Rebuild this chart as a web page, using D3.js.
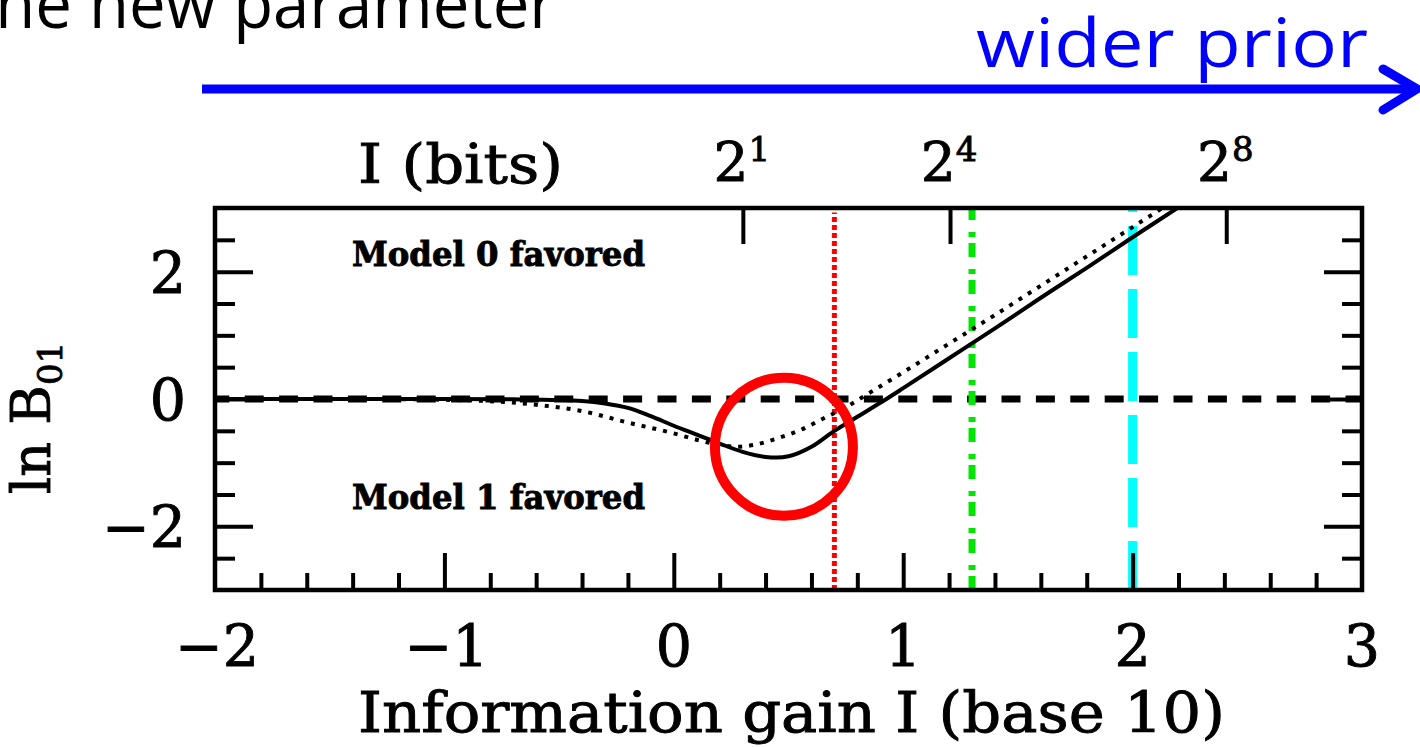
<!DOCTYPE html>
<html>
<head>
<meta charset="utf-8">
<script src="https://cdn.jsdelivr.net/npm/d3@7"></script>
<style>
  html, body { margin: 0; padding: 0; background: #fff; }
  svg { display: block; }
  .plotText { fill: #000; stroke: #000; stroke-width: 0.9px; }
</style>
</head>
<body>
<svg id="chart" width="1420" height="747"></svg>
<script>
// ln B01 against information gain (log10), for two prior shapes
const solidX = [-2.0, -1.5, -1.0, -0.7, -0.5, -0.4, -0.3, -0.2, -0.1, 0.0, 0.1, 0.2, 0.3, 0.4, 0.45, 0.5, 0.6, 0.7, 0.8, 0.9, 1.0, 1.2, 1.4, 1.6, 1.8, 2.0, 2.2, 2.3];
const solidY = [0, 0, 0, -0.005, -0.015, -0.03, -0.07, -0.14, -0.27, -0.42, -0.56, -0.70, -0.83, -0.91, -0.92, -0.90, -0.75, -0.50, -0.28, -0.06, 0.17, 0.64, 1.11, 1.59, 2.06, 2.54, 3.01, 3.25];

const dottedX = [-2.0, -1.4, -1.2, -1.0, -0.8, -0.6, -0.4, -0.2, 0.0, 0.1, 0.2, 0.27, 0.35, 0.45, 0.55, 0.65, 0.75, 0.85, 1.0, 1.2, 1.4, 1.6, 1.8, 2.0, 2.2];
const dottedY = [0, 0, -0.003, -0.012, -0.035, -0.09, -0.19, -0.37, -0.54, -0.64, -0.72, -0.75, -0.72, -0.62, -0.49, -0.31, -0.13, 0.09, 0.42, 0.87, 1.32, 1.78, 2.24, 2.70, 3.16];

// reference widths marked by vertical lines
const markerX = [0.7, 1.3, 2.0];
const markerColor = ["#ff0000", "#00e600", "#00ffff"];

// tick values
const xMajorTicks = [-2, -1, 0, 1, 2, 3];
const xMinorTicks = d3.range(-20, 31, 2).map(d => d / 10).filter(d => !Number.isInteger(d));
const yMajorTicks = [-2, 0, 2];
const yMinorTicks = [-2.5, -1.5, -1, -0.5, 0.5, 1, 1.5, 2.5];
const bitPowers = [1, 4, 8];

const svg = d3.select("#chart");
svg.append("rect").attr("width", 1420).attr("height", 747).attr("fill", "#fff");

const pLeft = 215, pRight = 1362, pTop = 208, pBottom = 590;
const x = d3.scaleLinear().domain([-2, 3]).range([pLeft, pRight]);
const y = d3.scaleLinear().domain([-3, 3]).range([pBottom, pTop]);

const serif = "'DejaVu Serif', serif";

// ---- slide header: partial caption and "wider prior" arrow ----
svg.append("text")
  .attr("x", 556).attr("y", 28)
  .attr("text-anchor", "end")
  .attr("font-family", "'Open Sans', sans-serif")
  .attr("font-size", 68)
  .attr("fill", "#000")
  .attr("textLength", 600).attr("lengthAdjust", "spacingAndGlyphs")
  .text("one new parameter");

svg.append("text")
  .attr("x", 976).attr("y", 67)
  .attr("font-family", "'Open Sans', sans-serif")
  .attr("font-size", 68)
  .attr("fill", "#0000ff")
  .attr("textLength", 392)
  .attr("lengthAdjust", "spacingAndGlyphs")
  .text("wider prior");

svg.append("line")
  .attr("x1", 202).attr("x2", 1414).attr("y1", 89).attr("y2", 89)
  .attr("stroke", "#0000ff").attr("stroke-width", 9);
svg.append("polyline")
  .attr("points", "1383,69 1417,89 1383,110")
  .attr("fill", "none").attr("stroke", "#0000ff").attr("stroke-width", 9)
  .attr("stroke-linecap", "round").attr("stroke-linejoin", "round");

// ---- plot contents ----
svg.append("clipPath").attr("id", "plotClip")
  .append("rect").attr("x", pLeft).attr("y", pTop).attr("width", pRight - pLeft).attr("height", pBottom - pTop);

const plot = svg.append("g").attr("clip-path", "url(#plotClip)");

// zero line
plot.append("line")
  .attr("x1", x(-2)).attr("x2", x(3)).attr("y1", y(0)).attr("y2", y(0))
  .attr("stroke", "#000").attr("stroke-width", 7)
  .attr("stroke-dasharray", "19,15.4").attr("stroke-dashoffset", 4.7);

// vertical reference lines (drawn bottom to top)
const markerDash = ["5,3", "14,6,5,12", "49,14"];
const markerWidth = [5, 7, 9];
markerX.forEach((v, i) => {
  plot.append("line")
    .attr("x1", x(v)).attr("x2", x(v))
    .attr("y1", y(-3)).attr("y2", i === 0 ? y(2.93) : y(3))
    .attr("stroke", markerColor[i])
    .attr("stroke-width", markerWidth[i])
    .attr("stroke-dasharray", markerDash[i]);
});

const line = d3.line().x(d => x(d[0])).y(d => y(d[1])).curve(d3.curveMonotoneX);

plot.append("path")
  .datum(dottedX.map((v, i) => [v, dottedY[i]]))
  .attr("d", line)
  .attr("fill", "none").attr("stroke", "#000").attr("stroke-width", 4)
  .attr("stroke-dasharray", "4,7");

plot.append("path")
  .datum(solidX.map((v, i) => [v, solidY[i]]))
  .attr("d", line)
  .attr("fill", "none").attr("stroke", "#000").attr("stroke-width", 4);

// highlight ring around the minimum
svg.append("circle")
  .attr("cx", x(0.48)).attr("cy", y(-0.75)).attr("r", 69)
  .attr("fill", "none").attr("stroke", "#ff0000").attr("stroke-width", 10);

// ---- axes (inward ticks) ----
function tickAxis(axis, values, size, transform) {
  const g = svg.append("g").attr("transform", transform)
    .call(axis.tickValues(values).tickSize(size).tickFormat(""));
  g.select(".domain").remove();
  g.selectAll(".tick line").attr("stroke", "#000").attr("stroke-width", 4);
  return g;
}
tickAxis(d3.axisBottom(x), xMinorTicks, -17, `translate(0,${pBottom})`);
tickAxis(d3.axisBottom(x), xMajorTicks.slice(1, -1), -37, `translate(0,${pBottom})`);
tickAxis(d3.axisLeft(y), yMinorTicks, -20, `translate(${pLeft},0)`);
tickAxis(d3.axisLeft(y), yMajorTicks, -38, `translate(${pLeft},0)`);
tickAxis(d3.axisRight(y), yMinorTicks, -20, `translate(${pRight},0)`);
tickAxis(d3.axisRight(y), yMajorTicks, -38, `translate(${pRight},0)`);
const bitPos = bitPowers.map(k => Math.log10(Math.pow(2, k)));
tickAxis(d3.axisTop(x), bitPos, -36, `translate(0,${pTop})`);

// frame
svg.append("rect")
  .attr("x", pLeft).attr("y", pTop).attr("width", pRight - pLeft).attr("height", pBottom - pTop)
  .attr("fill", "none").attr("stroke", "#000").attr("stroke-width", 4.5);

// bottom tick labels
const fmt = d3.format("d");
svg.append("g").selectAll("text").data(xMajorTicks).join("text")
  .attr("class", "plotText")
  .attr("x", d => x(d) + (d < 0 ? 2 : 0)).attr("y", 666)
  .attr("text-anchor", "middle")
  .attr("font-family", serif).attr("font-size", 57)
  .text(d => fmt(d));

// left tick labels
svg.append("g").selectAll("text").data(yMajorTicks).join("text")
  .attr("class", "plotText")
  .attr("x", 186).attr("y", d => y(d) + 21)
  .attr("text-anchor", "end")
  .attr("font-family", serif).attr("font-size", 57)
  .text(d => fmt(d));

// top labels in bits
const bitLabels = svg.append("g").selectAll("text").data(bitPowers).join("text")
  .attr("class", "plotText")
  .attr("x", (d, i) => x(bitPos[i]) - 1).attr("y", 181)
  .attr("text-anchor", "middle")
  .attr("font-family", serif).attr("font-size", 55);
bitLabels.append("tspan").text("2");
bitLabels.append("tspan").attr("dy", -20).attr("font-size", 34).text(d => d);

svg.append("text")
  .attr("class", "plotText")
  .attr("x", 358).attr("y", 183)
  .attr("font-family", serif).attr("font-size", 55)
  .attr("textLength", 205).attr("lengthAdjust", "spacingAndGlyphs")
  .text("I (bits)");

// axis titles
svg.append("text")
  .attr("class", "plotText")
  .attr("x", 358).attr("y", 732)
  .attr("font-family", serif).attr("font-size", 56)
  .attr("textLength", 867).attr("lengthAdjust", "spacingAndGlyphs")
  .text("Information gain I (base 10)");

const yTitle = svg.append("text")
  .attr("class", "plotText")
  .attr("transform", "translate(50,494) rotate(-90)")
  .attr("font-family", serif).attr("font-size", 54);
yTitle.append("tspan").text("ln B");
yTitle.append("tspan").attr("dy", 12).attr("font-size", 34).text("01");

// region annotations
svg.append("text")
  .attr("class", "plotText")
  .attr("x", 352).attr("y", 266)
  .attr("font-family", serif).attr("font-weight", "bold").attr("font-size", 33)
  .attr("textLength", 293).attr("lengthAdjust", "spacingAndGlyphs")
  .text("Model 0 favored");
svg.append("text")
  .attr("class", "plotText")
  .attr("x", 352).attr("y", 509)
  .attr("font-family", serif).attr("font-weight", "bold").attr("font-size", 33)
  .attr("textLength", 293).attr("lengthAdjust", "spacingAndGlyphs")
  .text("Model 1 favored");
</script>
</body>
</html>
